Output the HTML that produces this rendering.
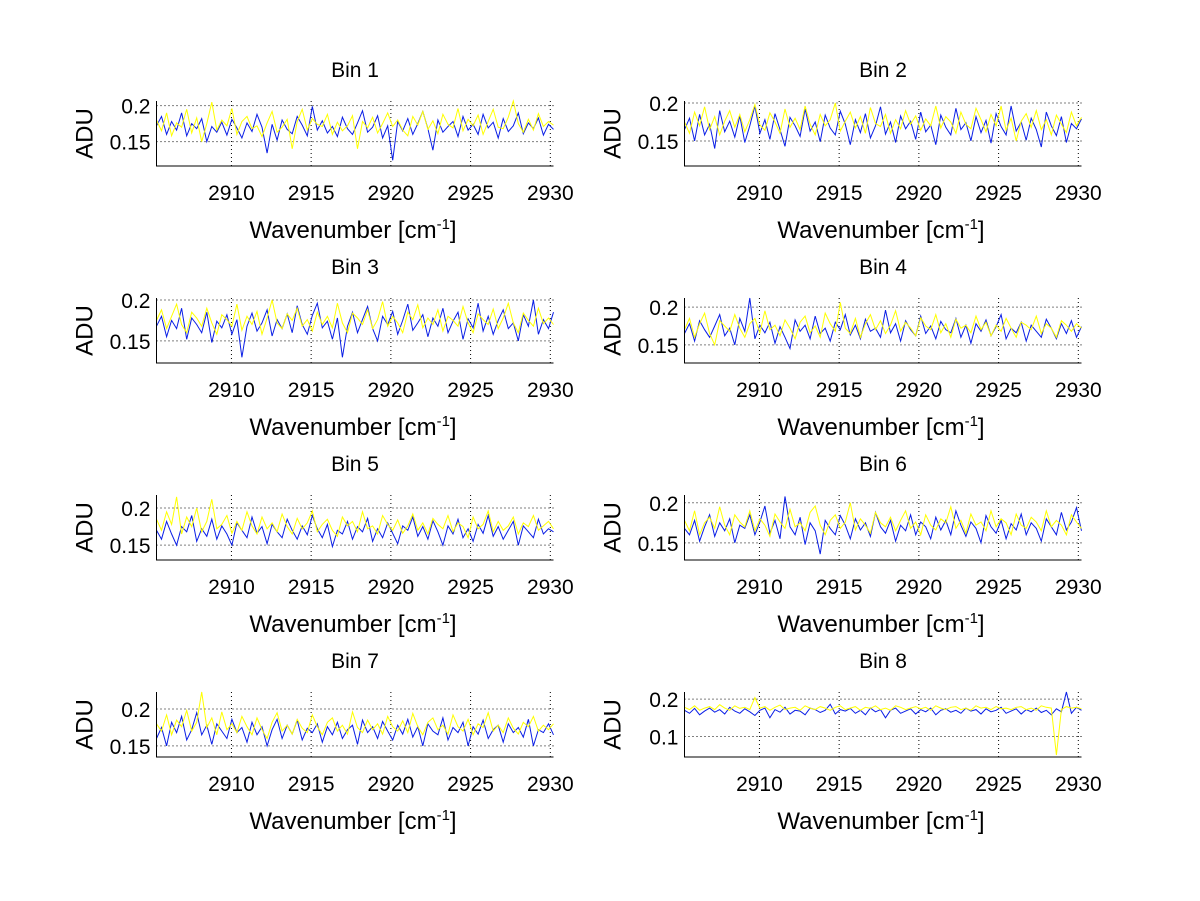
<!DOCTYPE html>
<html><head><meta charset="utf-8"><style>
body{margin:0;background:#fff;}
svg{display:block;font-family:"Liberation Sans",Arial,sans-serif;}
</style></head><body>
<svg id="fig" width="1200" height="901" xmlns="http://www.w3.org/2000/svg"></svg>
<script>
// wavenumber range
const xStart = 2905.3, xEnd = 2930.2;
const xTicks = [2910, 2915, 2920, 2925, 2930];
const binTitles = ["Bin 1","Bin 2","Bin 3","Bin 4","Bin 5","Bin 6","Bin 7","Bin 8"];
const yLimsMin = [0.116,0.117,0.123,0.126,0.130,0.1286,0.135,0.045];
const yLimsMax = [0.2065,0.2026,0.2024,0.212,0.2176,0.2097,0.223,0.219];
const yTickSets = [[0.15,0.2],[0.15,0.2],[0.15,0.2],[0.15,0.2],[0.15,0.2],[0.15,0.2],[0.15,0.2],[0.1,0.2]];
const yTickLabels = [["0.15","0.2"],["0.15","0.2"],["0.15","0.2"],["0.15","0.2"],["0.15","0.2"],["0.15","0.2"],["0.15","0.2"],["0.1","0.2"]];
// series values in milli-ADU
const blue1 = [172,185,160,178,166,190,158,175,168,182,150,171,163,177,159,181,169,155,176,164,188,170,134,174,152,180,167,161,185,173,158,199,166,179,162,171,157,184,168,160,176,193,163,170,186,155,172,124,178,165,182,160,175,192,168,138,180,163,171,178,157,185,166,174,160,188,169,177,155,182,164,172,190,161,176,168,183,159,174,167];
const yel1 = [180,165,190,158,176,170,195,162,183,150,175,205,166,180,172,196,160,178,185,168,172,157,176,192,163,170,181,140,178,195,166,182,174,171,188,160,177,165,172,186,140,178,169,184,162,175,190,171,180,166,158,185,173,192,167,179,161,188,174,169,196,165,181,172,187,160,178,195,170,168,184,207,175,163,181,166,189,171,178,173];
const blue2 = [165,180,150,185,158,172,140,190,162,176,155,183,148,170,196,160,178,152,186,165,143,181,170,156,192,163,175,149,184,167,158,189,172,145,178,161,186,154,170,195,159,175,148,183,166,176,152,188,162,171,145,184,168,158,193,165,174,150,182,161,177,147,186,169,158,196,163,175,151,180,165,142,188,170,157,182,148,173,166,179];
const yel2 = [175,160,188,170,195,165,182,158,176,190,168,185,162,178,198,171,164,187,175,160,192,168,180,165,196,172,158,185,170,178,200,163,176,188,167,182,160,194,173,169,185,160,178,166,190,172,183,164,179,170,196,167,182,175,160,188,172,166,193,178,162,185,170,196,164,180,150,176,186,168,190,165,178,158,184,172,161,188,170,181];
const blue3 = [168,180,155,175,165,190,152,178,170,160,185,148,174,166,182,158,176,130,168,184,162,172,188,156,176,165,183,160,193,170,158,181,196,166,174,152,178,130,168,185,160,176,192,165,150,180,170,186,158,175,195,163,172,182,155,178,168,190,160,174,185,152,177,166,196,162,180,158,175,188,165,172,150,182,168,200,158,176,165,185];
const yel3 = [175,188,165,180,195,170,160,185,178,168,190,172,158,182,176,168,195,163,180,170,186,158,178,200,172,165,183,175,190,168,176,162,185,170,180,166,196,172,160,184,178,170,188,165,176,198,168,180,172,160,185,176,194,166,178,170,188,162,180,175,168,192,172,160,183,176,170,189,165,178,196,172,160,184,175,168,190,171,178,170];
const blue4 = [165,178,155,182,170,160,175,190,162,172,150,185,168,212,158,176,166,180,152,174,160,145,183,168,176,158,188,165,172,155,180,170,190,163,176,158,184,168,172,160,196,166,178,155,182,170,162,188,165,175,158,181,170,166,185,160,176,152,178,168,183,162,174,190,158,172,166,180,155,176,168,160,184,172,158,178,165,182,160,174];
const yel4 = [170,185,160,178,192,165,150,182,175,168,190,172,160,178,185,166,195,170,176,162,183,172,158,180,188,166,175,160,192,178,168,206,172,165,185,160,178,190,170,182,165,176,195,168,180,172,162,186,175,170,190,166,178,160,184,172,176,166,188,170,180,162,176,168,185,172,160,180,176,170,188,165,178,172,160,182,176,168,178,172];
const blue5 = [170,158,182,165,150,175,168,190,155,172,162,185,158,176,165,150,180,170,160,188,166,175,152,178,168,160,185,170,158,176,164,190,172,160,178,148,170,165,182,158,175,168,186,155,172,160,180,166,152,176,170,188,162,175,158,183,168,150,176,165,185,160,172,155,178,166,190,162,175,158,170,182,150,176,168,160,185,165,172,168];
const yel5 = [185,170,195,178,215,165,188,175,200,168,182,212,172,178,190,166,182,170,195,176,165,188,172,180,168,192,175,165,186,172,180,196,168,178,185,170,162,188,176,182,168,195,172,176,165,190,178,170,184,166,176,192,170,180,165,186,178,172,190,168,180,175,160,188,172,178,196,168,182,170,176,188,165,180,175,190,170,176,182,172];
const blue6 = [168,160,178,152,170,185,158,175,165,180,150,172,168,185,160,176,196,162,178,155,208,170,160,182,148,175,165,136,178,168,160,184,172,155,180,166,175,158,188,170,162,178,152,172,165,185,160,176,170,155,182,166,178,160,190,172,158,176,168,150,184,170,162,178,155,174,166,186,160,175,168,152,180,170,160,188,166,176,194,165];
const yel6 = [178,165,190,160,175,182,168,195,172,160,185,176,170,190,165,180,172,158,186,176,168,192,170,175,165,188,196,172,160,178,185,168,176,200,166,180,172,162,188,175,170,182,165,178,190,168,176,160,185,172,166,180,175,195,168,178,162,186,172,176,165,190,170,180,175,160,186,172,168,182,176,165,190,170,178,172,160,185,176,168];
const blue7 = [160,175,150,182,168,190,158,172,195,165,178,152,180,170,160,186,168,175,155,182,165,176,150,172,186,160,178,166,185,158,174,168,180,155,176,165,182,160,172,178,152,185,168,176,160,183,170,158,178,166,186,162,176,150,180,170,165,188,158,175,168,182,150,176,166,185,160,172,178,155,180,168,175,162,186,150,172,168,180,165];
const yel7 = [180,170,192,165,185,176,198,170,182,228,175,188,165,196,172,180,168,190,176,165,188,172,160,182,195,170,178,166,186,174,168,192,176,165,182,188,170,178,166,196,175,168,185,172,180,166,190,176,170,184,168,194,176,165,182,188,172,178,166,192,176,170,186,165,180,175,195,170,178,168,188,174,166,182,176,190,170,178,172,180];
const blue8 = [170,162,175,158,168,176,165,172,160,178,168,162,174,166,156,170,176,150,172,165,178,160,170,168,158,176,172,164,170,186,160,172,168,175,162,170,158,176,166,172,150,170,176,162,168,174,160,172,166,176,158,170,174,165,170,162,176,168,172,160,174,166,170,178,162,168,174,160,172,166,176,164,170,158,174,166,225,162,178,170];
const yel8 = [178,172,182,170,176,180,172,185,176,170,182,175,178,172,204,176,180,170,178,184,172,176,178,170,182,176,172,180,176,170,178,182,172,176,180,170,178,175,182,172,176,170,182,178,172,176,180,174,178,170,182,176,172,178,180,172,176,170,182,176,178,172,180,174,176,172,178,180,172,176,170,182,178,176,50,172,180,176,178,174];
const blueSeries = [blue1,blue2,blue3,blue4,blue5,blue6,blue7,blue8];
const yellowSeries = [yel1,yel2,yel3,yel4,yel5,yel6,yel7,yel8];

const NS = "http://www.w3.org/2000/svg";
const fig = document.getElementById('fig');
function mk(tag, attrs, parent){
  const e = document.createElementNS(NS, tag);
  for (const k in attrs) e.setAttribute(k, attrs[k]);
  (parent||fig).appendChild(e);
  return e;
}
const colLeft = [156.5, 684.5];
const rowTop = [101, 298, 495, 692];
const axW = 397, axH = 65;

for (let i = 0; i < 8; i++) {
  const L = colLeft[i % 2], T = rowTop[Math.floor(i / 2)], B = T + axH, R = L + axW;
  const xs = v => L + (v - xStart) / (xEnd - xStart) * axW;
  const ys = v => B - (v - yLimsMin[i]) / (yLimsMax[i] - yLimsMin[i]) * axH;
  const g = mk('g', {});
  
  
  xTicks.forEach(t => {
    const ln = mk('line', {x1: xs(t), x2: xs(t), y1: T, y2: B, stroke: '#000', 'stroke-width': 1, 'stroke-dasharray': '1,3'}, g);
    
    
  });
  yTickSets[i].forEach(t => {
    const ln = mk('line', {x1: L, x2: R, y1: ys(t), y2: ys(t), stroke: '#000', 'stroke-width': 1, 'stroke-dasharray': '1,3'}, g);
    
    
  });
  const draw = (arr, color, name) => {
    const n = arr.length;
    const pts = arr.map((v, k) => {
      const x = xs(xStart + (xEnd - xStart) * k / (n - 1));
      let y = ys(v / 1000);
      y = Math.max(T, Math.min(B, y));
      return x.toFixed(1) + ',' + y.toFixed(1);
    }).join(' ');
    const pl = mk('polyline', {points: pts, fill: 'none', stroke: color, 'stroke-width': 1}, g);
    
    
  };
  draw(blueSeries[i], '#0a1ee6', 'blue-series');
  draw(yellowSeries[i], '#ffff00', 'yellow-series');
  const ax = mk('path', {d: `M${L},${T} V${B} H${R}`, fill: 'none', stroke: '#000', 'stroke-width': 1}, g);
  
  
  xTicks.forEach(t => {
    const tx = mk('text', {x: xs(t), y: B + 34, 'font-size': 21, 'text-anchor': 'middle'}, g);
    tx.textContent = String(t);
    
    
  });
  yTickSets[i].forEach((t, k) => {
    const tx = mk('text', {x: L - 6, y: ys(t) + 8, 'font-size': 21, 'text-anchor': 'end'}, g);
    tx.textContent = yTickLabels[i][k];
    
    
  });
  const ti = mk('text', {x: L + axW / 2, y: T - 24, 'font-size': 21, 'text-anchor': 'middle'}, g);
  ti.textContent = binTitles[i];
  
  
  const xl = mk('text', {x: L + axW / 2 - 2, y: B + 72, 'font-size': 24, 'text-anchor': 'middle'}, g);
  xl.textContent = 'Wavenumber [cm';
  const sup = mk('tspan', {'font-size': 15, dy: -9}, xl);
  sup.textContent = '-1';
  const cl = mk('tspan', {dy: 9}, xl);
  cl.textContent = ']';
  
  
  const yl = mk('text', {x: 0, y: 0, 'font-size': 24, 'text-anchor': 'middle', transform: `translate(${L - 64},${T + axH / 2}) rotate(-90)`}, g);
  yl.textContent = 'ADU';
  
  
}
</script>
</body></html>
